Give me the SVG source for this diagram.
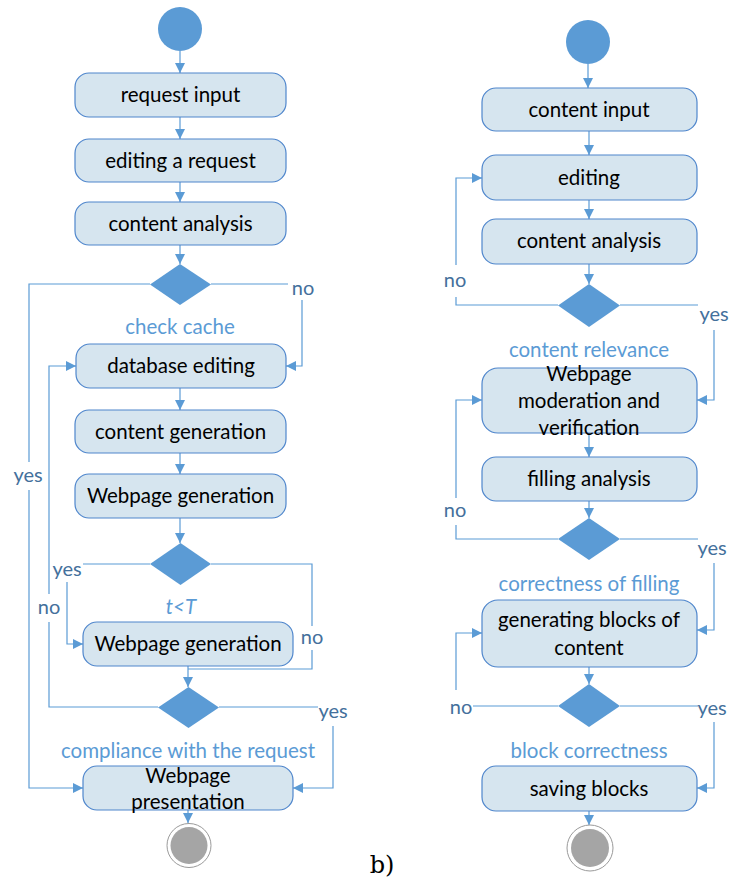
<svg xmlns="http://www.w3.org/2000/svg" width="731" height="885" viewBox="0 0 731 885">
  <style>
    .box { fill: #D6E5EF; stroke: #4F86CC; stroke-width: 1.2; }
    .dec { fill: #5B9BD5; }
    .start { fill: #5B9BD5; }
    .endo { fill: #fff; stroke: #9A9A9A; stroke-width: 1; }
    .endi { fill: #A5A5A5; }
    .t { font-family: Lato, "Liberation Sans", sans-serif; font-size: 20.5px; fill: #000; text-anchor: middle; }
    .g { font-family: Lato, "Liberation Sans", sans-serif; font-size: 20.5px; fill: #5B9BD5; text-anchor: middle; }
    .l { font-family: Lato, "Liberation Sans", sans-serif; font-size: 20px; fill: #44709C; text-anchor: middle; }
    .c path { fill: none; stroke: #5B9BD5; stroke-width: 1.2; }
    .c path.a { marker-end: url(#arr); }
    .cap { font-family: "DejaVu Serif", "Liberation Serif", serif; font-size: 24px; fill: #000; text-anchor: middle; }
  </style>
  <defs>
    <marker id="arr" markerUnits="userSpaceOnUse" markerWidth="11" markerHeight="11" refX="10" refY="5" orient="auto">
      <path d="M0,0 L10,5 L0,10 z" fill="#5B9BD5"/>
    </marker>
  </defs>

  <!-- connectors -->
  <g id="connectors" class="c">
    <!-- left flow -->
    <path class="a" d="M180,51 V73"/>
    <path class="a" d="M180,117 V139"/>
    <path class="a" d="M180,182 V202"/>
    <path class="a" d="M180,245 V264"/>
    <path d="M150,284 H29 V462"/>
    <path class="a" d="M29,490 V788 H83"/>
    <path d="M211,284 H288"/>
    <path class="a" d="M302,300 V366 H286"/>
    <path class="a" d="M180,388 V410"/>
    <path class="a" d="M180,453 V474"/>
    <path class="a" d="M180,518 V543"/>
    <path d="M150,564 H83"/>
    <path class="a" d="M67,582 V644 H83"/>
    <path d="M211,564 H312 V626"/>
    <path d="M312,650 V669 H188"/>
    <path class="a" d="M188,666 V687"/>
    <path d="M158,707 H49 V622"/>
    <path class="a" d="M49,594 V366 H76"/>
    <path d="M219,707 H318"/>
    <path class="a" d="M333,726 V788 H293"/>
    <path class="a" d="M188,810 V823"/>
    <!-- right flow -->
    <path class="a" d="M588,64 V88"/>
    <path class="a" d="M589,131 V155"/>
    <path class="a" d="M589,200 V219"/>
    <path class="a" d="M589,264 V284"/>
    <path d="M558,305 H456 V297"/>
    <path class="a" d="M456,265 V178 H482"/>
    <path d="M620,305 H698"/>
    <path class="a" d="M714,330 V400 H697"/>
    <path class="a" d="M589,433 V457"/>
    <path class="a" d="M589,501 V518"/>
    <path d="M558,539 H456 V525"/>
    <path class="a" d="M456,498 V400 H482"/>
    <path d="M620,539 H698"/>
    <path class="a" d="M714,563 V630 H697"/>
    <path class="a" d="M589,667 V684"/>
    <path d="M558,706 H473"/>
    <path class="a" d="M456,690 V633 H482"/>
    <path d="M620,706 H698"/>
    <path class="a" d="M714,722 V788 H697"/>
    <path class="a" d="M589,811 V825"/>
  </g>

  <!-- branch labels -->
  <g id="branch-labels">
    <text class="l" x="28" y="482">yes</text>
    <text class="l" x="303" y="295">no</text>
    <text class="l" x="67" y="576">yes</text>
    <text class="l" x="312" y="644">no</text>
    <text class="l" x="49" y="614">no</text>
    <text class="l" x="333" y="718">yes</text>
    <text class="l" x="455" y="287">no</text>
    <text class="l" x="714" y="321">yes</text>
    <text class="l" x="455" y="517">no</text>
    <text class="l" x="712" y="555">yes</text>
    <text class="l" x="461" y="714">no</text>
    <text class="l" x="712" y="715">yes</text>
  </g>

  <!-- left diagram -->
  <g id="start-left"><circle class="start" cx="180" cy="29" r="22"/></g>
  <g id="request-input"><rect class="box" x="75" y="73" width="211" height="44" rx="14"/><text class="t" x="180.5" y="102">request input</text></g>
  <g id="editing-request"><rect class="box" x="75" y="139" width="211" height="43" rx="14"/><text class="t" x="180.5" y="168">editing a request</text></g>
  <g id="content-analysis-left"><rect class="box" x="75" y="202" width="211" height="43" rx="14"/><text class="t" x="180.5" y="231">content analysis</text></g>
  <g id="check-cache"><polygon class="dec" points="180,264 211,284.5 180,305 150,284.5"/><text class="g" x="180" y="334">check cache</text></g>
  <g id="database-editing"><rect class="box" x="76" y="344" width="210" height="44" rx="14"/><text class="t" x="181" y="373">database editing</text></g>
  <g id="content-generation"><rect class="box" x="75" y="410" width="211" height="43" rx="14"/><text class="t" x="180.5" y="439">content generation</text></g>
  <g id="webpage-generation-1"><rect class="box" x="75" y="474" width="211" height="44" rx="14"/><text class="t" x="180.5" y="503">Webpage generation</text></g>
  <g id="time-check"><polygon class="dec" points="180.5,543 211,564 180.5,585 150,564"/><text class="g" x="181" y="614" font-style="italic">t&lt;T</text></g>
  <g id="webpage-generation-2"><rect class="box" x="83" y="622" width="210" height="44" rx="14"/><text class="t" x="188" y="651">Webpage generation</text></g>
  <g id="request-compliance"><polygon class="dec" points="188.5,687 219,707.5 188.5,728 158,707.5"/><text class="g" x="188" y="758">compliance with the request</text></g>
  <g id="webpage-presentation"><rect class="box" x="83" y="766" width="210" height="44" rx="14"/><text class="t" x="188" y="783">Webpage</text><text class="t" x="188" y="809">presentation</text></g>
  <g id="end-left"><circle class="endo" cx="189" cy="845.5" r="22"/><circle class="endi" cx="189" cy="845.5" r="18.5"/></g>

  <!-- right diagram -->
  <g id="start-right"><circle class="start" cx="588" cy="42" r="22"/></g>
  <g id="content-input"><rect class="box" x="482" y="88" width="215" height="43" rx="14"/><text class="t" x="589" y="117">content input</text></g>
  <g id="editing"><rect class="box" x="482" y="155" width="215" height="45" rx="14"/><text class="t" x="589" y="185">editing</text></g>
  <g id="content-analysis-right"><rect class="box" x="482" y="219" width="215" height="45" rx="14"/><text class="t" x="589" y="248">content analysis</text></g>
  <g id="content-relevance"><polygon class="dec" points="589,284 620,305.5 589,327 558,305.5"/><text class="g" x="589" y="357">content relevance</text></g>
  <g id="moderation"><rect class="box" x="482" y="368" width="215" height="65" rx="16"/><text class="t" x="589" y="381">Webpage</text><text class="t" x="589" y="408">moderation and</text><text class="t" x="589" y="435">verification</text></g>
  <g id="filling-analysis"><rect class="box" x="482" y="457" width="215" height="44" rx="14"/><text class="t" x="589" y="486">filling analysis</text></g>
  <g id="filling-correctness"><polygon class="dec" points="589,518 620,539 589,560 558,539"/><text class="g" x="589" y="591">correctness of filling</text></g>
  <g id="generating-blocks"><rect class="box" x="482" y="600" width="215" height="67" rx="16"/><text class="t" x="589" y="627">generating blocks of</text><text class="t" x="589" y="655">content</text></g>
  <g id="block-correctness"><polygon class="dec" points="589,684 620,706 589,727 558,706"/><text class="g" x="589" y="758">block correctness</text></g>
  <g id="saving-blocks"><rect class="box" x="482" y="766" width="215" height="45" rx="14"/><text class="t" x="589" y="796">saving blocks</text></g>
  <g id="end-right"><circle class="endo" cx="590" cy="848" r="23"/><circle class="endi" cx="590" cy="848" r="19"/></g>

  <text class="cap" x="382" y="873">b)</text>
</svg>
